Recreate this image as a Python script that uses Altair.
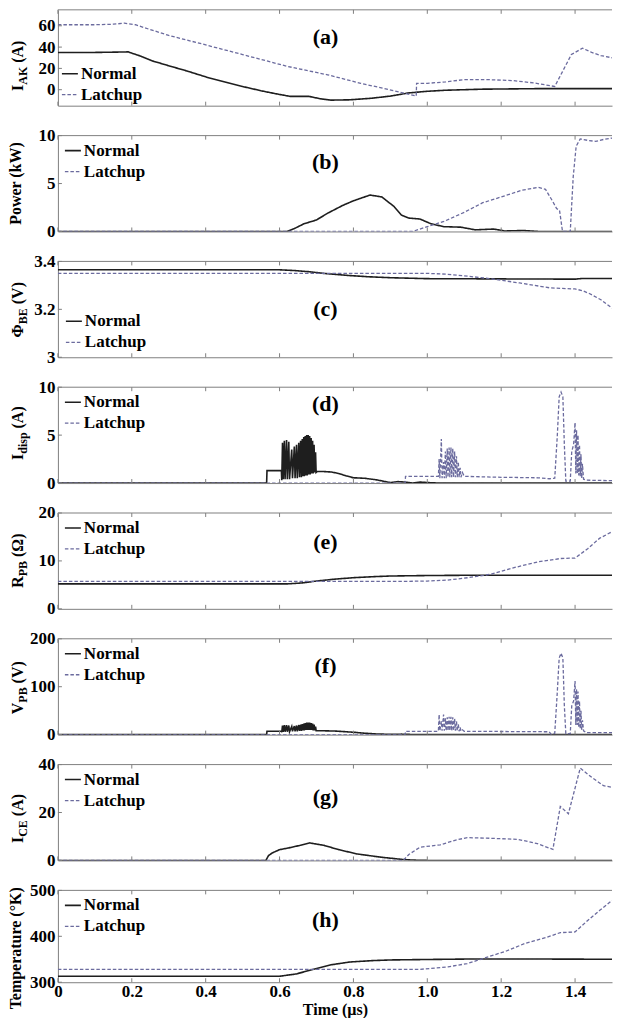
import altair as alt
import pandas as pd

# ---------------- data ----------------
XTICKS = [0, 0.2, 0.4, 0.6, 0.8, 1.0, 1.2, 1.4]
SERIES = ["Normal", "Latchup"]
COLORS = ["#1e1e1e", "#6b6b9e"]
DASHES = [[1, 0], [3.5, 2]]

A_NORMAL = [(0, 35), (0.10, 35), (0.16, 35.3), (0.19, 35.5), (0.22, 32), (0.256, 27), (0.30, 22.5),
            (0.35, 17.5), (0.41, 11), (0.46, 6.5), (0.50, 3), (0.55, -1), (0.60, -4.5), (0.63, -6.3),
            (0.68, -6.3), (0.71, -8.5), (0.74, -9.8), (0.79, -9.5), (0.85, -8), (0.90, -6), (0.95, -3),
            (1.00, -1.5), (1.05, -0.5), (1.15, 0.5), (1.30, 1), (1.50, 1)]
A_LATCH = [(0, 61), (0.10, 61), (0.15, 61.5), (0.18, 62.5), (0.21, 61), (0.245, 57), (0.30, 51),
           (0.39, 43), (0.50, 33), (0.62, 22), (0.73, 14), (0.82, 6), (0.91, -1), (0.97, -6),
           (0.971, 6), (1.00, 6), (1.05, 7.3), (1.10, 9.5), (1.16, 9.5), (1.23, 8.6), (1.29, 6.3),
           (1.345, 3), (1.366, 17), (1.39, 33), (1.42, 39), (1.445, 35), (1.47, 32), (1.50, 30)]

B_NORMAL = [(0, 0), (0.62, 0), (0.64, 0.3), (0.666, 0.8), (0.70, 1.2), (0.73, 1.9), (0.77, 2.7),
            (0.80, 3.2), (0.845, 3.8), (0.877, 3.6), (0.91, 2.6), (0.93, 1.7), (0.95, 1.4), (0.98, 1.3),
            (1.01, 0.8), (1.045, 0.5), (1.09, 0.45), (1.13, 0.17), (1.18, 0.25), (1.21, 0.05),
            (1.26, 0.1), (1.30, 0), (1.50, 0)]
B_LATCH = [(0, 0), (0.96, 0), (1.00, 0.5), (1.045, 1.05), (1.10, 2.0), (1.15, 3.0), (1.20, 3.6),
           (1.256, 4.3), (1.30, 4.6), (1.32, 4.4), (1.34, 3.1), (1.35, 2.4), (1.358, 2.2), (1.366, 0),
           (1.387, 0), (1.395, 5.7), (1.403, 8.9), (1.414, 9.65), (1.435, 9.5), (1.456, 9.4),
           (1.477, 9.6), (1.50, 9.75)]

C_NORMAL = [(0, 3.365), (0.60, 3.365), (0.64, 3.362), (0.68, 3.357), (0.72, 3.35), (0.78, 3.342),
            (0.84, 3.336), (0.90, 3.332), (1.00, 3.328), (1.20, 3.327), (1.40, 3.326), (1.42, 3.329),
            (1.50, 3.329)]
C_LATCH = [(0, 3.35), (0.60, 3.35), (1.00, 3.35), (1.05, 3.347), (1.10, 3.34), (1.17, 3.328),
           (1.25, 3.31), (1.33, 3.29), (1.40, 3.285), (1.42, 3.278), (1.44, 3.265), (1.47, 3.24),
           (1.50, 3.205)]

D_NORMAL = [(0, 0), (0.565, 0), (0.566, 1.3), (0.605, 1.3), (0.606, 0.3), (0.608, 4.2), (0.610, 0.4),
            (0.613, 4.4), (0.615, 0.4), (0.619, 4.5), (0.621, 0.4), (0.625, 4.3), (0.627, 0.4),
            (0.633, 3.5), (0.635, 0.5), (0.640, 3.8), (0.642, 0.5), (0.646, 4.0), (0.648, 0.5),
            (0.652, 4.2), (0.654, 0.6), (0.657, 4.4), (0.659, 0.6), (0.6615, 4.6), (0.663, 0.7),
            (0.6655, 4.8), (0.667, 0.7), (0.6695, 4.9), (0.671, 0.8), (0.6735, 5.0), (0.675, 0.8),
            (0.6775, 5.0), (0.679, 0.9), (0.6815, 4.9), (0.683, 0.9), (0.6855, 4.7), (0.687, 1.0),
            (0.6895, 4.4), (0.691, 1.0), (0.6935, 4.0), (0.695, 1.1), (0.6975, 3.2), (0.699, 1.1),
            (0.702, 1.2), (0.72, 1.2), (0.74, 1.15), (0.76, 1.0), (0.78, 0.75), (0.80, 0.55),
            (0.83, 0.5), (0.86, 0.35), (0.88, 0.2), (0.90, 0.05), (0.92, 0.15), (0.94, 0.1),
            (0.96, 0.0), (0.98, 0.1), (1.00, 0.05), (1.03, 0.0), (1.50, 0.0)]
D_LATCH = [(0, 0), (0.94, 0), (0.941, 0.7), (1.03, 0.7), (1.032, 2.5), (1.034, 0.5), (1.038, 4.6),
           (1.040, 0.5), (1.044, 2.2), (1.046, 0.5), (1.049, 3.3), (1.051, 0.5), (1.054, 3.6),
           (1.056, 0.6), (1.059, 3.7), (1.061, 0.6), (1.064, 3.7), (1.066, 0.6), (1.069, 3.6),
           (1.071, 0.6), (1.074, 3.3), (1.076, 0.6), (1.079, 2.8), (1.081, 0.6), (1.084, 2.2),
           (1.086, 0.6), (1.089, 1.6), (1.091, 0.6), (1.095, 1.1), (1.10, 0.7), (1.20, 0.6),
           (1.30, 0.55), (1.33, 0.45), (1.345, 0.5), (1.352, 5.0), (1.357, 9.0), (1.362, 9.5),
           (1.367, 9.0), (1.371, 4.0), (1.375, 0.2), (1.387, 0.2), (1.391, 3.3), (1.396, 4.0),
           (1.400, 6.3), (1.402, 1.0), (1.404, 5.5), (1.406, 1.0), (1.408, 5.0), (1.410, 0.8),
           (1.412, 4.0), (1.414, 0.7), (1.416, 3.0), (1.418, 0.5), (1.420, 2.0), (1.423, 0.4),
           (1.43, 0.3), (1.50, 0.25)]

E_NORMAL = [(0, 5.2), (0.62, 5.2), (0.66, 5.4), (0.70, 5.8), (0.75, 6.2), (0.80, 6.5), (0.85, 6.7),
            (0.90, 6.85), (1.00, 6.95), (1.10, 7.0), (1.50, 7.0)]
E_LATCH = [(0, 5.75), (0.95, 5.75), (1.00, 5.8), (1.055, 6.0), (1.11, 6.5), (1.17, 7.2), (1.235, 8.6),
           (1.30, 9.8), (1.36, 10.5), (1.40, 10.6), (1.435, 12.6), (1.466, 14.7), (1.50, 16.1)]

F_NORMAL = [(0, 0), (0.565, 0), (0.566, 7), (0.605, 7), (0.606, 5), (0.608, 19), (0.610, 6),
            (0.613, 20), (0.615, 6), (0.619, 20), (0.621, 6), (0.625, 19), (0.627, 6), (0.633, 17),
            (0.635, 7), (0.640, 18), (0.642, 7), (0.646, 19), (0.648, 7), (0.652, 20), (0.654, 8),
            (0.657, 21), (0.659, 8), (0.6615, 22), (0.663, 9), (0.6655, 23), (0.667, 9), (0.6695, 24),
            (0.671, 10), (0.6735, 25), (0.675, 10), (0.6775, 25), (0.679, 10), (0.6815, 25),
            (0.683, 10), (0.6855, 24), (0.687, 10), (0.6895, 23), (0.691, 9), (0.6935, 21),
            (0.695, 9), (0.6975, 17), (0.699, 8), (0.702, 8), (0.72, 8), (0.75, 7.5), (0.78, 6),
            (0.80, 5), (0.83, 3), (0.86, 1.5), (0.90, 0.5), (0.93, 1.0), (0.96, 0.3), (1.00, 0.2),
            (1.05, 0), (1.50, 0)]
F_LATCH = [(0, 0), (0.94, 0), (0.941, 7), (1.03, 7), (1.032, 42), (1.034, 8), (1.038, 28),
           (1.040, 8), (1.044, 42), (1.046, 8), (1.049, 34), (1.051, 8), (1.054, 36), (1.056, 8),
           (1.059, 37), (1.061, 8), (1.064, 37), (1.066, 8), (1.069, 36), (1.071, 8), (1.074, 33),
           (1.076, 8), (1.079, 28), (1.081, 8), (1.084, 22), (1.086, 7), (1.089, 15), (1.091, 7),
           (1.095, 10), (1.10, 7), (1.33, 6), (1.335, 1), (1.345, 3), (1.352, 90), (1.357, 160),
           (1.362, 170), (1.367, 160), (1.371, 60), (1.375, 2), (1.387, 2), (1.391, 60),
           (1.396, 70), (1.400, 112), (1.402, 20), (1.404, 95), (1.406, 20), (1.408, 90),
           (1.410, 15), (1.412, 70), (1.414, 12), (1.416, 50), (1.418, 10), (1.420, 30),
           (1.423, 8), (1.43, 4), (1.50, 4)]

G_NORMAL = [(0, 0), (0.563, 0), (0.57, 2.0), (0.58, 3.1), (0.60, 4.5), (0.624, 5.2), (0.656, 6.3),
            (0.682, 7.3), (0.72, 6.3), (0.76, 4.5), (0.81, 2.7), (0.877, 1.3), (0.94, 0.3),
            (0.97, 0.1), (1.00, 0), (1.50, 0)]
G_LATCH = [(0, 0), (0.935, 0), (0.95, 2.5), (0.98, 5.5), (1.035, 6.5), (1.077, 8.5), (1.108, 9.5),
           (1.16, 9.3), (1.245, 8.8), (1.298, 7.0), (1.34, 4.6), (1.36, 22.5), (1.382, 19.5),
           (1.414, 38.5), (1.445, 34.7), (1.477, 31.2), (1.50, 30.5)]

H_NORMAL = [(0, 313), (0.60, 313), (0.645, 318), (0.687, 327), (0.74, 338), (0.79, 344), (0.85, 347),
            (0.90, 348.5), (1.00, 349.5), (1.11, 350.5), (1.30, 350.5), (1.50, 350)]
H_LATCH = [(0, 328), (0.98, 328), (1.056, 333.5), (1.108, 340.5), (1.16, 354), (1.214, 368),
           (1.266, 385), (1.32, 397), (1.36, 408), (1.40, 409.5), (1.435, 435), (1.466, 456),
           (1.50, 478)]

LETTERS = ["(a)", "(b)", "(c)", "(d)", "(e)", "(f)", "(g)", "(h)"]
TITLE_MAIN = ["I", "Power (kW)", "Φ", "I", "R", "V", "I", "Temperature (°K)"]
TITLE_SUB = ["AK", "", "BE", "disp", "PB", "PB", "CE", ""]
TITLE_UNIT = ["(A)", "", "(V)", "(A)", "(Ω)", "(V)", "(A)", ""]
Y_DOMAINS = [[-15, 75], [0, 10], [3, 3.4], [0, 10], [0, 20], [0, 200], [0, 40], [300, 500]]
Y_TICKS = [[0, 20, 40, 60], [0, 5, 10], [3, 3.2, 3.4], [0, 5, 10], [0, 10, 20], [0, 100, 200],
           [0, 20, 40], [300, 400, 500]]
SERIES_DATA = [(A_NORMAL, A_LATCH), (B_NORMAL, B_LATCH), (C_NORMAL, C_LATCH), (D_NORMAL, D_LATCH),
               (E_NORMAL, E_LATCH), (F_NORMAL, F_LATCH), (G_NORMAL, G_LATCH), (H_NORMAL, H_LATCH)]

# ---------------- layout / style ----------------
FONT = "Liberation Serif"
FRAME = "#808080"
W = 555
HEIGHTS = [96, 96, 96, 96, 96, 96, 96, 92]
SPACING = 30
LETTER_Y = [27, 26, 48, 17, 29, 27, 32, 30]
TITLE_YC = [56, 48, 48, 46, 48, 49, 54, 58]
LEGEND_ORIENT = ["bottom-left", "top-left", "bottom-left", "top-left", "top-left", "top-left",
                 "top-left", "top-left"]
LEGEND_OFFSET = [3, 6, 7, 6, 6, 6, 6, 6]
TICK_FS = 17
LEG_FS = 17

EM = {"I": 0.389, "A": 0.722, "K": 0.778, "Φ": 0.78, "B": 0.667, "E": 0.667, "d": 0.556,
      "i": 0.278, "s": 0.389, "p": 0.556, "R": 0.722, "P": 0.611, "V": 0.722, "C": 0.722,
      " ": 0.25, "(": 0.333, ")": 0.333, "Ω": 0.77}


def text_w(s, size):
    return sum(EM.get(c, 0.55) for c in s) * size


def panel(i):
    h = HEIGHTS[i]
    last = i == len(HEIGHTS) - 1
    normal, latch = SERIES_DATA[i]
    df = pd.DataFrame({
        "t": [p[0] for p in normal] + [p[0] for p in latch],
        "v": [p[1] for p in normal] + [p[1] for p in latch],
        "series": ["Normal"] * len(normal) + ["Latchup"] * len(latch),
        "k": list(range(len(normal))) + list(range(len(latch))),
    })

    xaxis = alt.Axis(values=XTICKS, labels=last, ticks=False, tickSize=0, grid=False,
                     domainColor=FRAME, domainWidth=1, labelFont=FONT, labelFontSize=TICK_FS,
                     labelFontWeight="bold", labelColor="black", labelPadding=1, labelFlush=False,
                     labelExpr="datum.value == 0 ? '0' : format(datum.value, '.1f')",
                     title="Time (µs)" if last else None, titleFont=FONT, titleFontSize=16,
                     titleFontWeight="bold", titleColor="black", titlePadding=2)
    xe = alt.X("t:Q", scale=alt.Scale(domain=[0, 1.5], nice=False, zero=False), axis=xaxis)
    yaxis = alt.Axis(values=Y_TICKS[i], ticks=False, tickSize=0, grid=False, domainColor=FRAME,
                     domainWidth=1, labelFont=FONT, labelFontSize=TICK_FS, labelFontWeight="bold",
                     labelColor="black", labelPadding=3, title=None,
                     labelExpr="format(datum.value, '~g')")
    ye = alt.Y("v:Q", scale=alt.Scale(domain=Y_DOMAINS[i], nice=False, zero=False), axis=yaxis)

    leg = alt.Legend(title=None, orient=LEGEND_ORIENT[i], offset=LEGEND_OFFSET[i], padding=0,
                     symbolType="stroke", symbolSize=256, symbolStrokeWidth=1.8,
                     labelFont=FONT, labelFontSize=LEG_FS, labelFontWeight="bold", labelColor="black",
                     labelOffset=2, rowPadding=4)

    lines = alt.Chart(df).mark_line(clip=True).encode(
        x=xe, y=ye,
        color=alt.Color("series:N", scale=alt.Scale(domain=SERIES, range=COLORS), legend=leg),
        strokeDash=alt.StrokeDash("series:N", scale=alt.Scale(domain=SERIES, range=DASHES), legend=leg),
        strokeWidth=alt.StrokeWidth("series:N", scale=alt.Scale(domain=SERIES, range=[1.6, 1.3]),
                                    legend=None),
        order="k:Q",
    )

    xt = pd.DataFrame({"t": XTICKS})
    yt = pd.DataFrame({"v": Y_TICKS[i]})
    one = pd.DataFrame({"letter": [LETTERS[i]]})
    bottom_ticks = alt.Chart(xt).mark_rule(color=FRAME, strokeWidth=1).encode(
        x=xe, y=alt.value(h), y2=alt.value(h - 4))
    top_ticks = alt.Chart(xt).mark_rule(color=FRAME, strokeWidth=1).encode(
        x=xe, y=alt.value(0), y2=alt.value(4))
    left_ticks = alt.Chart(yt).mark_rule(color=FRAME, strokeWidth=1).encode(
        y=ye, x=alt.value(0), x2=alt.value(4))
    top_frame = alt.Chart(one).mark_rule(color=FRAME, strokeWidth=1).encode(
        x=alt.value(0), x2=alt.value(W), y=alt.value(0))
    letter = alt.Chart(one).mark_text(font=FONT, fontSize=22, fontWeight="bold", color="black",
                                      align="center", baseline="middle").encode(
        text="letter:N", x=alt.value(268), y=alt.value(LETTER_Y[i]))

    layers = [lines, bottom_ticks, top_ticks, left_ticks, top_frame, letter]

    main, sub, unit = TITLE_MAIN[i], TITLE_SUB[i], TITLE_UNIT[i]
    yc = TITLE_YC[i]
    tdf = pd.DataFrame({"main": [main], "sub": [sub], "unit": [unit]})
    if sub:
        wm = text_w(main, 16)
        ws = text_w(sub, 12)
        gap = text_w(" ", 16)
        wu = text_w(unit, 16)
        total = wm + ws + gap + wu
        ya = yc + total / 2 - wm
        layers.append(alt.Chart(tdf).mark_text(font=FONT, fontSize=16, fontWeight="bold",
                                               color="black", angle=270, align="right",
                                               baseline="middle").encode(
            text="main:N", x=alt.value(-40), y=alt.value(ya)))
        layers.append(alt.Chart(tdf).mark_text(font=FONT, fontSize=12, fontWeight="bold",
                                               color="black", angle=270, align="left",
                                               baseline="middle").encode(
            text="sub:N", x=alt.value(-35), y=alt.value(ya)))
        layers.append(alt.Chart(tdf).mark_text(font=FONT, fontSize=16, fontWeight="bold",
                                               color="black", angle=270, align="left",
                                               baseline="middle").encode(
            text="unit:N", x=alt.value(-40), y=alt.value(ya - ws - gap)))
    else:
        layers.append(alt.Chart(tdf).mark_text(font=FONT, fontSize=16, fontWeight="bold",
                                               color="black", angle=270, align="center",
                                               baseline="middle").encode(
            text="main:N", x=alt.value(-42), y=alt.value(yc)))

    return alt.layer(*layers).properties(width=W, height=h)


chart = alt.vconcat(*[panel(i) for i in range(8)], spacing=SPACING, bounds="flush").resolve_scale(
    color="independent", strokeDash="independent", strokeWidth="independent"
).resolve_legend(
    color="independent", strokeDash="independent"
).properties(
    padding={"left": 0, "top": 0, "right": 0, "bottom": 0},
    autosize=alt.AutoSizeParams(type="pad"),
).configure_view(stroke=None)

chart.save("out.html", embed_options={"renderer": "svg", "actions": False})
